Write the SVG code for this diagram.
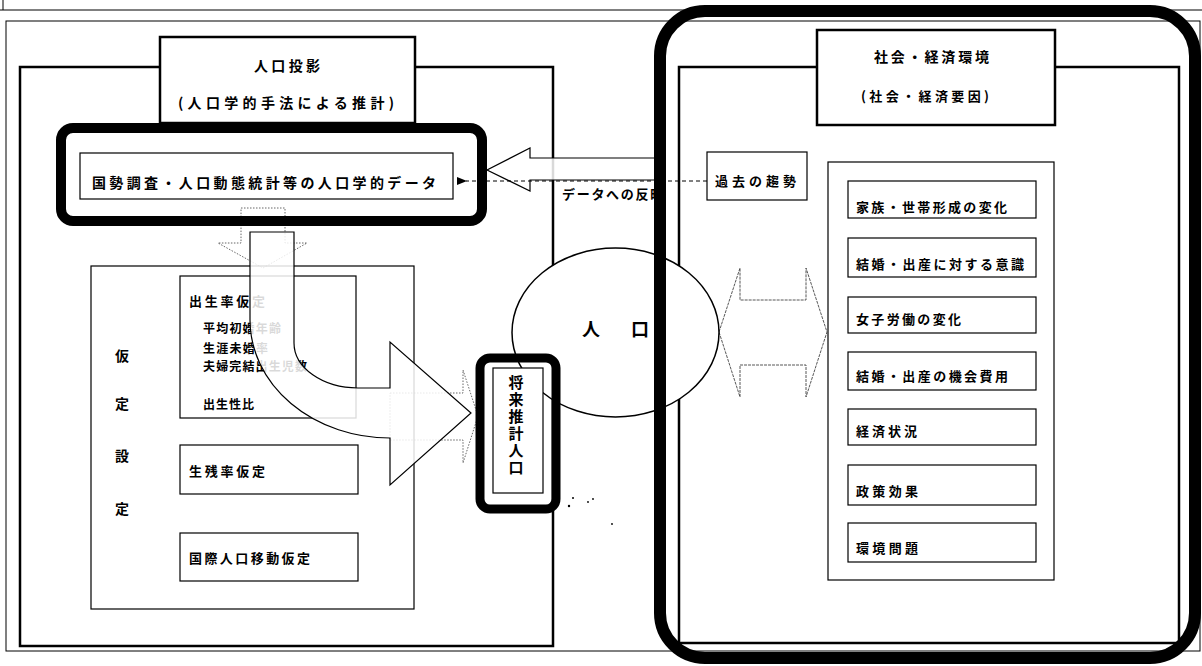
<svg xmlns="http://www.w3.org/2000/svg" width="1202" height="666" viewBox="0 0 1202 666">
<defs>
<style>
text{font-family:"Noto Sans CJK JP","Noto Sans CJK SC",sans-serif;font-weight:bold;fill:#000;dominant-baseline:central}
.thin{fill:none;stroke:#000;stroke-width:1.2}
.wbox{fill:#fff;stroke:#000;stroke-width:1.2}
.frame{fill:none;stroke:#000;stroke-width:2.5}
.wframe{fill:#fff;stroke:#000;stroke-width:2.5}
.thick{fill:none;stroke:#000;stroke-width:10}
.t13{font-size:13px}
.t14{font-size:14px}
.t12{font-size:12px}
.ghost{fill:none;stroke:#555;stroke-width:0.9;stroke-dasharray:1.5 1.5}
</style>
<marker id="ah" markerWidth="10" markerHeight="8" refX="1" refY="4" orient="auto" markerUnits="userSpaceOnUse">
<path d="M10,0 L0,4 L10,8 Z" fill="#000"/>
</marker>
<clipPath id="clipTxt"><rect x="540" y="180" width="117" height="30"/></clipPath>
</defs>
<rect width="1202" height="666" fill="#fff"/>

<g id="page-frame">
<line x1="0" y1="10" x2="1202" y2="10" stroke="#000" stroke-width="1"/>
<line x1="3" y1="0" x2="3" y2="10" stroke="#000" stroke-width="1"/>
<rect x="6" y="21" width="1194" height="630" fill="none" stroke="#000" stroke-width="1"/>
</g>

<g id="projection-frame">
<rect class="frame" x="20" y="67" width="533" height="579"/>
</g>
<g id="projection-title">
<rect class="wframe" x="160" y="37" width="255" height="86"/>
<text class="t14" x="254" y="65" textLength="66" lengthAdjust="spacing">人口投影</text>
<text class="t14" x="178" y="102" textLength="216" lengthAdjust="spacing">(人口学的手法による推計)</text>
</g>

<g id="ghost-arrows">
<polygon class="ghost" points="241,208 285,208 285,243 307,243 263,268 218,243 241,243"/>
<polygon class="ghost" points="390,393 463,393 463,370 478,416 463,463 463,440 390,440"/>
</g>

<g id="data-node">
<rect class="thick" x="61" y="128" width="421" height="93" rx="12"/>
<rect class="wbox" x="80" y="153" width="373" height="46"/>
<text class="t14" x="92" y="182" textLength="344" lengthAdjust="spacing">国勢調査・人口動態統計等の人口学的データ</text>
</g>

<g id="assumption-node">
<rect class="thin" x="91" y="266" width="323" height="343"/>
<text x="122" y="355" style="font-size:14px" text-anchor="middle">仮</text>
<text x="122" y="403" style="font-size:14px" text-anchor="middle">定</text>
<text x="122" y="455" style="font-size:14px" text-anchor="middle">設</text>
<text x="122" y="508" style="font-size:14px" text-anchor="middle">定</text>
</g>
<g id="fertility-node">
<rect class="thin" x="180" y="276" width="176" height="142"/>
<text class="t13" x="189" y="300" textLength="76" lengthAdjust="spacing">出生率仮定</text>
<text class="t12" x="203" y="327" textLength="78" lengthAdjust="spacing">平均初婚年齢</text>
<text class="t12" x="203" y="347" textLength="65" lengthAdjust="spacing">生涯未婚率</text>
<text class="t12" x="203" y="365" textLength="104" lengthAdjust="spacing">夫婦完結出生児数</text>
<text class="t12" x="203" y="403" textLength="51" lengthAdjust="spacing">出生性比</text>
</g>
<g id="survival-node">
<rect class="thin" x="180" y="445" width="178" height="49"/>
<text class="t13" x="189" y="470" textLength="76" lengthAdjust="spacing">生残率仮定</text>
</g>
<g id="migration-node">
<rect class="thin" x="180" y="533" width="178" height="48"/>
<text class="t13" x="189" y="557" textLength="121" lengthAdjust="spacing">国際人口移動仮定</text>
</g>

<g id="socio-frame">
<rect class="frame" x="679" y="67" width="500" height="576"/>
</g>
<g id="socio-title">
<rect class="wframe" x="817" y="30" width="238" height="95"/>
<text class="t14" x="874" y="56" textLength="115" lengthAdjust="spacing">社会・経済環境</text>
<text class="t13" x="861" y="95" textLength="128" lengthAdjust="spacing">(社会・経済要因)</text>
</g>
<g id="past-trend-node">
<rect class="wbox" x="707" y="152" width="100" height="48"/>
<text class="t13" x="715" y="180" textLength="81" lengthAdjust="spacing">過去の趨勢</text>
</g>
<g id="factors-node">
<rect class="thin" x="828" y="162" width="226" height="418"/>
<rect class="thin" x="848" y="181" width="188" height="37"/>
<text class="t13" x="856" y="206" textLength="151" lengthAdjust="spacing">家族・世帯形成の変化</text>
<rect class="thin" x="848" y="238" width="188" height="39"/>
<text class="t13" x="856" y="263" textLength="168" lengthAdjust="spacing">結婚・出産に対する意識</text>
<rect class="thin" x="848" y="297" width="188" height="36"/>
<text class="t13" x="856" y="318" textLength="105" lengthAdjust="spacing">女子労働の変化</text>
<rect class="thin" x="848" y="352" width="188" height="38"/>
<text class="t13" x="856" y="375" textLength="152" lengthAdjust="spacing">結婚・出産の機会費用</text>
<rect class="thin" x="848" y="409" width="188" height="36"/>
<text class="t13" x="856" y="430" textLength="61" lengthAdjust="spacing">経済状況</text>
<rect class="thin" x="848" y="465" width="188" height="40"/>
<text class="t13" x="856" y="490" textLength="62" lengthAdjust="spacing">政策効果</text>
<rect class="thin" x="848" y="523" width="188" height="39"/>
<text class="t13" x="856" y="547" textLength="62" lengthAdjust="spacing">環境問題</text>
</g>

<g id="connectors">
<path d="M250,232 L294,232 L294,343 A64,45 0 0 0 358,388 L390,388 L390,342 L471,413 L390,485 L390,438 A140,118 0 0 1 250,320 Z" fill="#fff" fill-opacity="0.85" stroke="#000" stroke-width="1.2"/>
<path d="M660,158 L530,158 L530,148 L487,170 L530,191 L530,180 L660,180" fill="#fff" fill-opacity="0.85" stroke="#000" stroke-width="1.2"/>
<line x1="707" y1="181" x2="466" y2="181" stroke="#000" stroke-width="1" stroke-dasharray="4 3" marker-end="url(#ah)"/>
<text x="562" y="193" clip-path="url(#clipTxt)" style="font-size:13px;letter-spacing:1.7px">データへの反映</text>
<polygon points="719,332 740,268 740,300 806,300 806,268 827,332 806,397 806,365 740,365 740,397" fill="none" stroke="#444" stroke-width="0.9" stroke-dasharray="3 1"/>
</g>

<g id="population-node">
<ellipse cx="615.5" cy="332.5" rx="103.5" ry="84.5" fill="#fff" stroke="#000" stroke-width="1.5"/>
<text x="591" y="328" style="font-size:18px" text-anchor="middle">人</text>
<text x="640" y="328" style="font-size:18px" text-anchor="middle">口</text>
</g>

<g id="future-population-node">
<rect x="480" y="358" width="76" height="151" rx="10" fill="none" stroke="#000" stroke-width="9"/>
<rect class="wbox" x="493" y="368" width="50" height="125"/>
<text x="516" y="375" writing-mode="vertical-rl" style="font-size:15px;letter-spacing:2px">将来推計人口</text>
</g>

<g id="socio-highlight">
<rect x="660" y="11" width="535" height="647" rx="45" fill="none" stroke="#000" stroke-width="12"/>
</g>

<g id="specks" fill="#000">
<circle cx="573" cy="498" r="1"/>
<circle cx="569" cy="506" r="1.2"/>
<circle cx="588" cy="502" r="0.9"/>
<circle cx="593" cy="499" r="0.9"/>
<circle cx="612" cy="524" r="0.9"/>
</g>
</svg>
